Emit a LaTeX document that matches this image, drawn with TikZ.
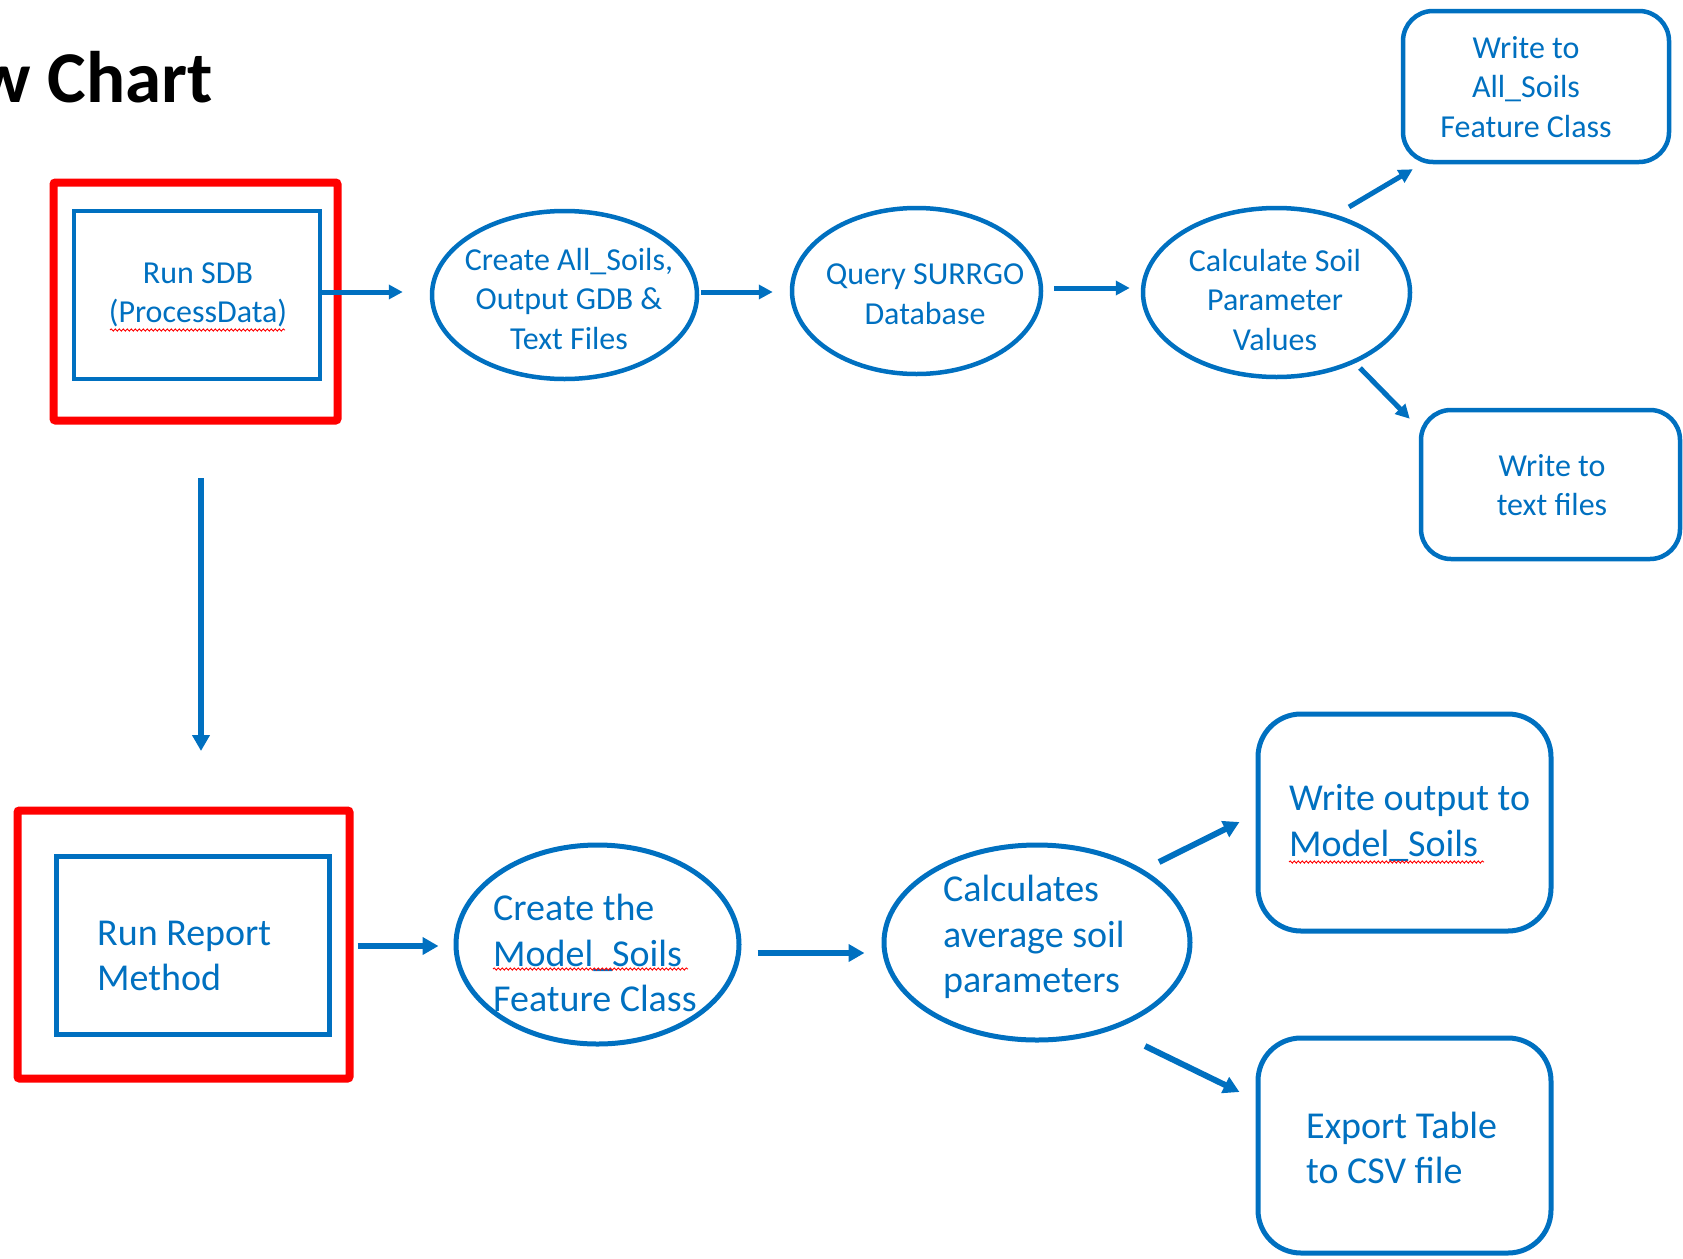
\documentclass[tikz,border=0pt]{standalone}
\usepackage{fontspec}
\setmainfont{Carlito}
\usetikzlibrary{arrows.meta,shapes.geometric,calc,decorations.pathmorphing}
\definecolor{bl}{HTML}{0070C0}
\definecolor{rd}{HTML}{FF0000}
\tikzset{
  shp/.style={draw=bl, line width=4.5pt, inner sep=0pt},
  rbox/.style={draw=rd, line width=8pt, rounded corners=2pt, inner sep=0pt},
  arr/.style={draw=bl, line width=5pt, -{Triangle[length=14pt,width=14pt]}},
  arrb/.style={draw=bl, line width=6pt, -{Triangle[length=16pt,width=17pt]}},
  ttop/.style={text=bl, font=\fontsize{32}{39.5}\selectfont, align=center, inner sep=0pt},
  tbot/.style={text=bl, font=\fontsize{38}{45.5}\selectfont, align=left, inner sep=0pt, anchor=west},
  squig/.style={draw=rd, line width=0.9pt, decorate, decoration={snake, amplitude=1.1pt, segment length=4pt}}
}
\begin{document}
\begin{tikzpicture}[x=1pt,y=-1pt]
\useasboundingbox (0,0) rectangle (1683,1258);
% title
\node[anchor=base east, inner sep=0pt, font=\fontsize{73}{88}\selectfont\bfseries] (title) at (213,102) {w Chart};
% top row shapes
\node[rbox, minimum width=284, minimum height=238] (redA) at (195.5,301.5) {};
\node[shp, rectangle, minimum width=246, minimum height=168] (boxA) at (197,295) {};
\node[shp, ellipse, minimum width=265, minimum height=168] (ellA) at (564.5,295) {};
\node[shp, ellipse, minimum width=249, minimum height=166] (ellB) at (916.5,291) {};
\node[shp, ellipse, minimum width=267, minimum height=169] (ellC) at (1276.5,292.5) {};
\node[shp, rectangle, rounded corners=30pt, minimum width=266, minimum height=151] (boxD) at (1536,86.5) {};
\node[shp, rectangle, rounded corners=30pt, minimum width=259, minimum height=149] (boxE) at (1550.5,484.5) {};
% top row texts
\node[ttop] (tA) at (198,295) {Run SDB\\(ProcessData)};
\node[ttop] (tB) at (569,299) {Create All\_Soils,\\Output GDB \&\\Text Files};
\node[ttop] (tC) at (925,294) {Query SURRGO\\Database};
\node[ttop] (tD) at (1275,300) {Calculate Soil\\Parameter\\Values};
\node[ttop] (tE) at (1526,87) {Write to\\All\_Soils\\Feature Class};
\node[ttop] (tF) at (1552,485) {Write to\\text files};
% bottom row shapes
\node[rbox, minimum width=332, minimum height=268] (redB) at (183.5,944.5) {};
\node[shp, line width=5pt, rectangle, minimum width=273, minimum height=178] (boxB) at (193,945.5) {};
\node[shp, line width=5pt, ellipse, minimum width=283, minimum height=199] (ellD) at (597.5,944.5) {};
\node[shp, line width=5pt, ellipse, minimum width=306, minimum height=195] (ellE) at (1037,942.5) {};
\node[shp, line width=5pt, rectangle, rounded corners=43pt, minimum width=293, minimum height=217] (boxF) at (1404.5,822.5) {};
\node[shp, line width=5pt, rectangle, rounded corners=43pt, minimum width=293, minimum height=215] (boxG) at (1404.5,1145.5) {};
% bottom row texts
\node[tbot] (tG) at (97,956) {Run Report\\Method};
\node[tbot] (tH) at (493,953) {Create the\\Model\_Soils\\Feature Class};
\node[tbot] (tI) at (943,937) {Calculates\\average soil\\parameters};
\node[tbot] (tJ) at (1289,823) {Write output to\\Model\_Soils};
\node[tbot] (tK) at (1306,1148) {Export Table\\to CSV file};
% spell-check squiggles
\draw[squig] (110,330) -- (285,330);
\draw[squig] (493,969) -- (688,969);
\draw[squig] (1289,862) -- (1484,862);
% connectors
\draw[arr] ($(boxA.east)+(0,-3)$) -- ($(ellA.west)+(-27,-3)$);
\draw[arr] ($(ellA.east)+(2,-3)$) -- ($(ellB.west)+(-17,1)$);
\draw[arr] ($(ellB.east)+(11,-3)$) -- ($(ellC.west)+(-11,-4.5)$);
\draw[arr] ($(ellC.center)+(72.5,-85.5)$) -- ($(boxD.south west)+(12,5)$);
\draw[arr] ($(ellC.center)+(83.5,75.5)$) -- ($(boxE.north west)+(-9,11)$);
\coordinate (v1) at ($(redA.south)+(5.5,53.5)$);
\coordinate (v2) at ($(redB.north)+(17.5,-55.5)$);
\draw[arrb] (v1) -- (v2);
\draw[arrb] ($(redB.east)+(4,1.5)$) -- ($(ellD.west)+(-15,1.5)$);
\draw[arrb] ($(ellD.east)+(16,8.5)$) -- ($(ellE.west)+(-17,10.5)$);
\draw[arrb] ($(ellE.center)+(122,-80.5)$) -- ($(boxF.west)+(-16,-0.5)$);
\draw[arrb] ($(ellE.center)+(108,103.5)$) -- ($(boxG.west)+(-16,-53.5)$);
\end{tikzpicture}
\end{document}
